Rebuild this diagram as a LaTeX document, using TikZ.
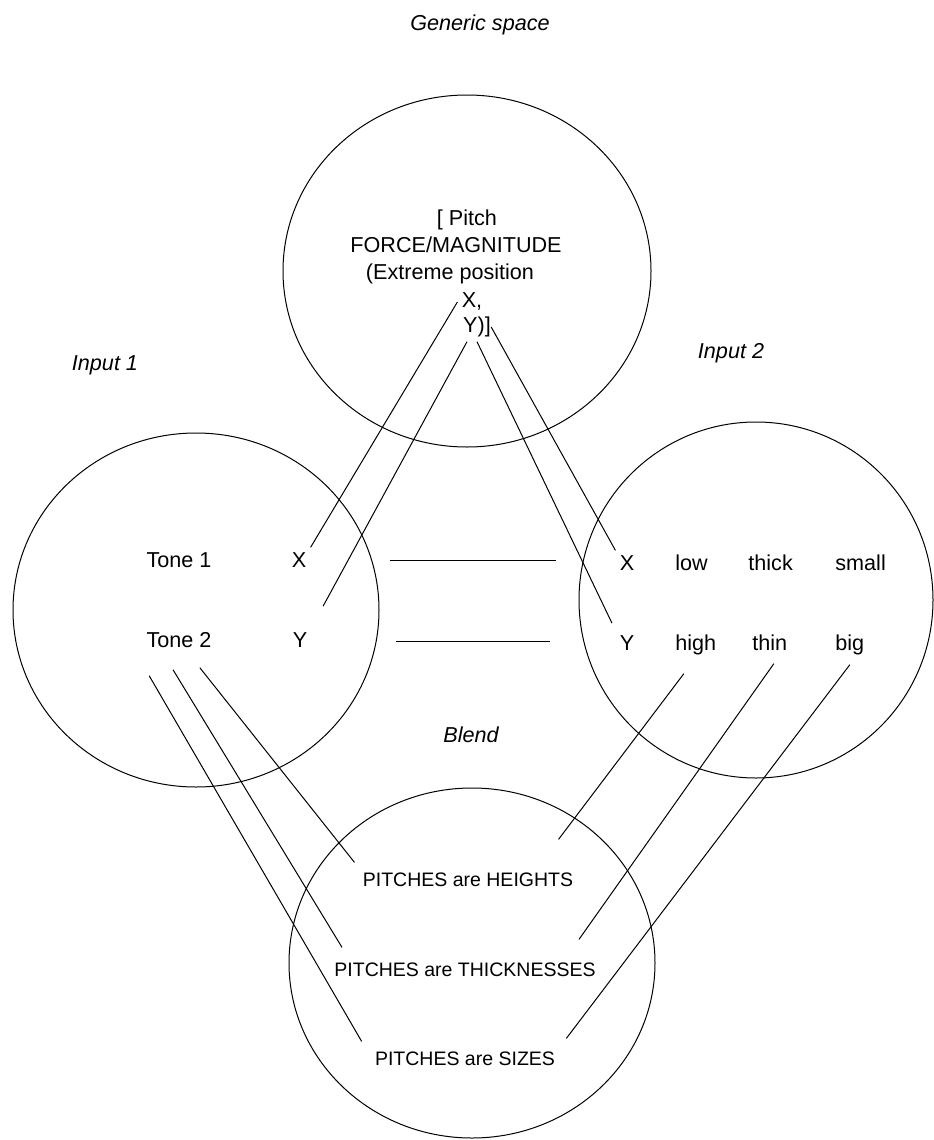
\documentclass[tikz,border=0pt]{standalone}
\usepackage{fontspec}
\setmainfont{Liberation Sans}
\usetikzlibrary{shapes.geometric}
\tikzset{
  mspace/.style={ellipse,draw,line width=0.5pt,inner sep=0pt,outer sep=0pt},
  word/.style={inner sep=2pt,text height=8pt,text depth=2.3pt,font=\fontsize{10.8}{13}\selectfont},
  meta/.style={inner sep=2pt,text height=7.2pt,text depth=2pt,font=\fontsize{9.75}{12}\selectfont},
  spacename/.style={inner sep=2pt,font=\fontsize{10.8}{13}\selectfont\itshape},
  link/.style={line width=0.5pt}
}

\begin{document}
\begin{tikzpicture}[x=0.5pt,y=-0.5pt]
\useasboundingbox (0,0) rectangle (933,1140);

% the four spaces
\node[mspace,minimum width=184pt,minimum height=176pt] (generic) at (467,271) {};
\node[mspace,minimum width=183pt,minimum height=177pt] (input1) at (196,610) {};
\node[mspace,minimum width=177pt,minimum height=178pt] (input2) at (756,600) {};
\node[mspace,minimum width=183pt,minimum height=175pt] (blend) at (472,963) {};

\node[spacename] (lgeneric) at (480,25) {Generic space};
\node[spacename] (linput1) at (105,365) {Input 1};
\node[spacename] (linput2) at (731,353) {Input 2};
\node[spacename] (lblend) at (471,735) {Blend};

% generic space
\node[word] (gpitch) at (467,220) {[ Pitch};
\node[word] (gforce) at (456,247) {FORCE/MAGNITUDE};
\node[word] (gextreme) at (450,274) {(Extreme position};
\node[word] (gx) at (472,302) {X,};
\node[word] (gy) at (477,327) {Y)]};

% input 1
\node[word] (t1) at (179,562) {Tone 1};
\node[word] (lx) at (299,562) {X};
\node[word] (t2) at (179,642) {Tone 2};
\node[word] (ly) at (300,642) {Y};

% input 2
\node[word] (rx) at (627,565) {X};
\node[word,anchor=west] (rlow) at (671,565) {low};
\node[word,anchor=west] (rthick) at (744,565) {thick};
\node[word,anchor=west] (rsmall) at (831,565) {small};
\node[word] (ry) at (627,645) {Y};
\node[word,anchor=west] (rhigh) at (671,645) {high};
\node[word,anchor=west] (rthin) at (748,645) {thin};
\node[word,anchor=west] (rbig) at (831,645) {big};

% blend
\node[meta] (bh) at (468,881) {PITCHES are HEIGHTS};
\node[meta] (bt) at (465,971) {PITCHES are THICKNESSES};
\node[meta] (bs) at (465,1060) {PITCHES are SIZES};

% generic to inputs
\draw[link] (gx.west) -- (lx.north east);
\draw[link,shorten >=12pt] ([xshift=-5pt]gy.south) -- (ly.north east);
\draw[link] ([xshift=-2pt]gy.east) -- (rx.north west);
\draw[link,shorten >=4pt] (gy.south) -- (ry.north west);

% cross-space mapping
\draw[link,shorten <=39.5pt,shorten >=29.5pt] ([yshift=1pt]lx.east) -- ([yshift=1pt]lx.east -| rx.west);
\draw[link,shorten <=42pt,shorten >=32.5pt] ([yshift=0.5pt]ly.east) -- ([yshift=0.5pt]ly.east -| ry.west);

% projections into the blend
\draw[link] ([shift={(7,19)}]t2.south west) -- ([shift={(-9,-5)}]bs.north west);
\draw[link] ([shift={(-6,13)}]t2.south) -- ([shift={(12,-10)}]bt.north west);
\draw[link] ([shift={(-16,11)}]t2.south east) -- ([shift={(-4,-5)}]bh.north west);
\draw[link] ([shift={(-12,14)}]rhigh.south) -- ([shift={(-19,-28)}]bh.north east);
\draw[link] ([shift={(4,4)}]rthin.south) -- ([shift={(-21,-18)}]bt.north east);
\draw[link] ([shift={(0,5)}]rbig.south) -- ([shift={(7,-8)}]bs.north east);

\end{tikzpicture}
\end{document}
